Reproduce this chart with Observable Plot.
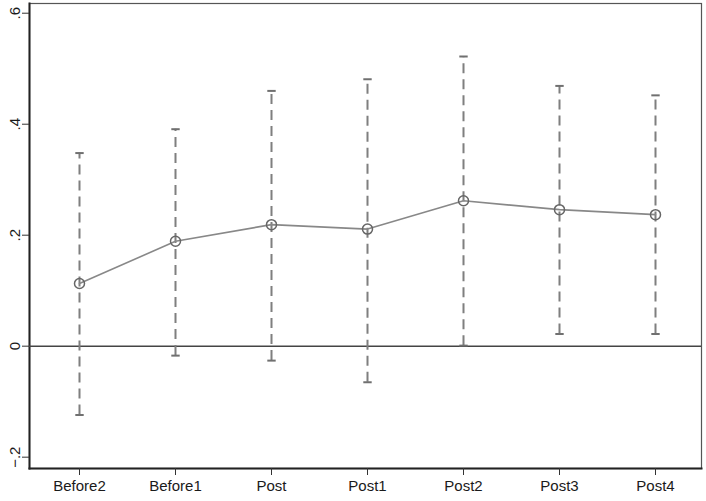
<!DOCTYPE html>
<html>
<head>
<meta charset="utf-8">
<script src="https://cdn.jsdelivr.net/npm/d3@7"></script>
<script src="https://cdn.jsdelivr.net/npm/@observablehq/plot@0.6"></script>
<style>
  html, body { margin: 0; padding: 0; background: #ffffff; }
  #chart { width: 706px; height: 501px; }
  #chart svg text { font-size: 15px; fill: #1a1a1a; }
</style>
</head>
<body>
<div id="chart"></div>
<script>
const categories = ["Before2", "Before1", "Post", "Post1", "Post2", "Post3", "Post4"];
const estimates  = [0.113, 0.189, 0.219, 0.211, 0.262, 0.246, 0.237];
const upper      = [0.348, 0.391, 0.460, 0.481, 0.522, 0.469, 0.452];
const lower      = [-0.124, -0.017, -0.026, -0.065, 0.001, 0.022, 0.022];
const yTicks     = [-0.2, 0, 0.2, 0.4, 0.6];

const rows = categories.map((c, i) => ({cat: c, est: estimates[i], hi: upper[i], lo: lower[i]}));

const capSymbol = {
  draw(context, size) {
    const r = Math.sqrt(size / Math.PI);
    context.moveTo(-r, 0);
    context.lineTo(r, 0);
  }
};

const fmt = d => d === 0 ? "0" : d3.format(".1f")(d).replace("0.", ".");

const chart = Plot.plot({
  width: 706,
  height: 501,
  marginLeft: 29,
  marginRight: 5,
  marginTop: 3,
  marginBottom: 33,
  style: {fontFamily: "'Liberation Sans', Arial, sans-serif", fontSize: "15px", color: "#222", background: "#ffffff"},
  x: {type: "point", domain: categories, range: [77, 656], padding: 0, label: null},
  y: {domain: [-0.2204, 0.6175], label: null},
  marks: [
    Plot.frame({stroke: "#555", strokeWidth: 1.2}),
    Plot.frame({anchor: "left", stroke: "#222", strokeWidth: 2}),
    Plot.frame({anchor: "bottom", stroke: "#222", strokeWidth: 2}),
    Plot.axisY({ticks: yTicks, tickFormat: fmt, tickSize: 7, tickPadding: 3, tickRotate: -90, fontSize: 15, stroke: "#333", label: null}),
    Plot.axisX({tickSize: 7, tickPadding: 5, fontSize: 15, stroke: "#333", label: null}),
    Plot.ruleY([0], {stroke: "#444", strokeWidth: 1.5}),
    Plot.ruleX(rows, {x: "cat", y1: "lo", y2: "hi", stroke: "#7f7f7f", strokeWidth: 2, strokeDasharray: "10,6"}),
    Plot.dot(rows, {x: "cat", y: "hi", symbol: capSymbol, r: 4.2, fill: "none", stroke: "#707070", strokeWidth: 2}),
    Plot.dot(rows, {x: "cat", y: "lo", symbol: capSymbol, r: 4.2, fill: "none", stroke: "#707070", strokeWidth: 2}),
    Plot.line(rows, {x: "cat", y: "est", stroke: "#888", strokeWidth: 1.6}),
    Plot.dot(rows, {x: "cat", y: "est", r: 5, fill: "none", stroke: "#666", strokeWidth: 1.5})
  ]
});
document.getElementById("chart").appendChild(chart);
</script>
</body>
</html>
